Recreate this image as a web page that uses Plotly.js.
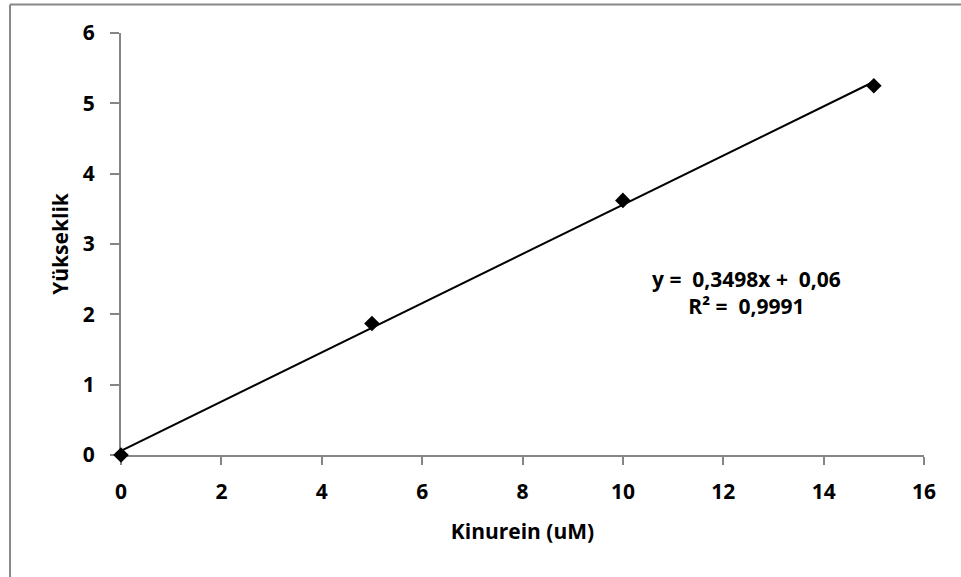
<!DOCTYPE html>
<html>
<head>
<meta charset="utf-8">
<script src="https://cdn.plot.ly/plotly-3.0.1.min.js"></script>
<style>html,body{margin:0;padding:0;background:#fff;}#chart{width:961px;height:577px;}</style>
</head>
<body>
<div id="chart"></div>
<script>
// Data
const kinurein = [0, 5, 10, 15];
const yukseklik = [0.0, 1.87, 3.62, 5.25];
const trendX = [0, 15];
const slope = 0.3498;
const intercept = 0.06;
const equationText = "y =  0,3498x +  0,06<br>R² =  0,9991";
const xTicks = [0, 2, 4, 6, 8, 10, 12, 14, 16];
const yTicks = [0, 1, 2, 3, 4, 5, 6];

const trendY = trendX.map(x => slope * x + intercept);
const FONT = "'Open Sans', sans-serif";
const AX = "#868686";
const FS = 21;

const traces = [
  {x: trendX, y: trendY, mode: "lines", line: {color: "#000", width: 2}, hoverinfo: "skip", showlegend: false, cliponaxis: false},
  {x: kinurein, y: yukseklik, mode: "markers", marker: {symbol: "diamond", size: 12, color: "#000"}, showlegend: false, cliponaxis: false}
];

const layout = {
  width: 961, height: 577,
  margin: {l: 121, r: 37, t: 33, b: 122},
  paper_bgcolor: "#fff", plot_bgcolor: "#fff",
  font: {family: FONT, size: FS, color: "#000", weight: "bold"},
  xaxis: {
    range: [0, 16], tickvals: xTicks, ticktext: xTicks.map(String),
    showgrid: false, zeroline: false, showline: true, linecolor: AX, linewidth: 2,
    layer: "below traces",
    ticks: "outside", ticklen: 8, tickwidth: 2, tickcolor: AX,
    ticklabelstandoff: 9,
    tickfont: {family: FONT, size: FS, weight: "bold", color: "#000"},
    title: {text: "Kinurein (uM)", font: {family: FONT, size: FS, weight: "bold", color: "#000"}, standoff: 20}
  },
  yaxis: {
    range: [0, 6], tickvals: yTicks, ticktext: yTicks.map(String),
    showgrid: false, zeroline: false, showline: true, linecolor: AX, linewidth: 2,
    layer: "below traces",
    ticks: "outside", ticklen: 9, tickwidth: 2, tickcolor: AX,
    ticklabelstandoff: 11,
    tickfont: {family: FONT, size: FS, weight: "bold", color: "#000"},
    title: {text: "Yükseklik", font: {family: FONT, size: FS, weight: "bold", color: "#000"}, standoff: 8}
  },
  annotations: [{
    xref: "paper", yref: "paper", x: 0.779, y: 0.384, xanchor: "center", yanchor: "middle",
    text: equationText, showarrow: false, align: "center",
    font: {family: FONT, size: FS, weight: "bold", color: "#000"}
  }],
  shapes: [
    {type: "line", xref: "paper", yref: "paper", x0: -0.1382, x1: 1.1, y0: 1.0675, y1: 1.0675, line: {color: "#888", width: 2}},
    {type: "line", xref: "paper", yref: "paper", x0: -0.1382, x1: -0.1382, y0: 1.0675, y1: -0.35, line: {color: "#888", width: 2}}
  ]
};

Plotly.newPlot("chart", traces, layout, {displayModeBar: false, staticPlot: true});
</script>
</body>
</html>
